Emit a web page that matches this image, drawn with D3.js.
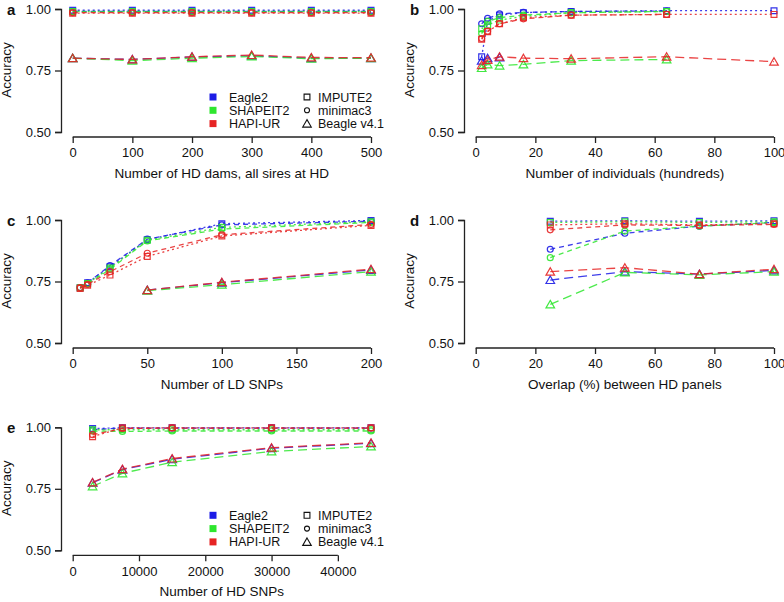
<!DOCTYPE html>
<html><head><meta charset="utf-8">
<script src="https://cdn.jsdelivr.net/npm/d3@7"></script>
<style>body{margin:0;background:#fff;} svg{display:block;font-family:"Liberation Sans",Arial,sans-serif;}</style>
</head><body>
<svg id="chart" width="784" height="602"></svg>
<script>
// ---- data ----
const phasing = ["Eagle2", "SHAPEIT2", "HAPI-UR"];
const imputation = ["IMPUTE2", "minimac3", "Beagle v4.1"];
const yTicks = [0.50, 0.75, 1.00];

// panel a: number of HD dams
const aX = [0, 100, 200, 300, 400, 500];
const aTicks = [0, 100, 200, 300, 400, 500];
const aEagle2   = [[0.995,0.995,0.995,0.995,0.995,0.995],[0.990,0.990,0.990,0.990,0.990,0.990],[0.800,0.795,0.805,0.810,0.800,0.800]];
const aSHAPEIT2 = [[0.990,0.990,0.990,0.990,0.990,0.990],[0.988,0.988,0.988,0.988,0.988,0.988],[0.800,0.790,0.800,0.807,0.798,0.800]];
const aHAPIUR   = [[0.983,0.983,0.983,0.983,0.983,0.983],[0.985,0.985,0.985,0.985,0.985,0.985],[0.800,0.795,0.806,0.813,0.803,0.802]];

// panel b: number of individuals (hundreds)
const bX = [2, 4, 8, 16, 32, 64, 100];
const bTicks = [0, 20, 40, 60, 80, 100];
const bEagle2   = [[0.806,0.950,0.975,0.985,0.990,0.993,0.993],[0.940,0.962,0.980,0.986,0.990,0.992,null],[0.790,0.800,0.803,null,null,null,null]];
const bSHAPEIT2 = [[0.920,0.935,0.955,0.970,0.985,0.990,null],[0.900,0.950,0.965,0.975,0.985,0.990,null],[0.760,0.775,0.770,0.775,0.790,0.795,null]];
const bHAPIUR   = [[0.877,0.908,0.940,0.965,0.975,0.978,0.978],[0.880,0.910,0.940,0.960,0.975,0.978,null],[0.772,0.793,0.806,0.800,0.798,0.806,0.786]];

// panel c: number of LD SNPs
const cX = [5, 10, 25, 50, 100, 200];
const cTicks = [0, 50, 100, 150, 200];
const cEagle2   = [[0.725,0.745,0.810,0.920,0.985,0.998],[0.725,0.745,0.815,0.922,0.980,0.995],[null,null,null,0.715,0.745,0.797]];
const cSHAPEIT2 = [[0.725,0.742,0.805,0.918,0.970,0.993],[0.725,0.740,0.800,0.915,0.963,0.990],[null,null,null,0.713,0.737,0.790]];
const cHAPIUR   = [[0.722,0.735,0.776,0.852,0.935,0.978],[0.725,0.738,0.790,0.865,0.940,0.982],[null,null,null,0.715,0.747,0.800]];

// panel d: overlap (%) between HD panels
const dX = [25, 50, 75, 100];
const dTicks = [0, 20, 40, 60, 80, 100];
const dEagle2   = [[0.995,0.997,0.995,0.997],[0.881,0.946,0.975,0.990],[0.756,0.790,0.780,0.795]];
const dSHAPEIT2 = [[0.990,0.993,0.990,0.993],[0.847,0.955,0.975,0.990],[0.657,0.787,0.777,0.790]];
const dHAPIUR   = [[0.980,0.985,0.980,0.985],[0.960,0.980,0.978,0.982],[0.790,0.806,0.780,0.800]];

// panel e: number of HD SNPs
const eX = [3000, 7500, 15000, 30000, 45000];
const eTicks = [0, 10000, 20000, 30000, 40000];
const eEagle2   = [[0.995,0.998,0.998,0.998,0.998],[0.990,0.997,0.997,0.997,0.997],[0.775,0.828,0.870,0.915,0.935]];
const eSHAPEIT2 = [[0.990,0.990,0.990,0.990,0.990],[0.985,0.983,0.985,0.985,0.985],[0.760,0.813,0.858,0.902,0.922]];
const eHAPIUR   = [[0.962,0.998,0.998,0.998,0.998],[0.970,0.995,0.997,0.997,0.997],[0.776,0.830,0.873,0.917,0.937]];

// ---- styles ----
const colors = ["#1c1ce6", "#2ee62e", "#e62424"];
const dashes = ["2,3", "5,4", "9,5"];
const symbols = [d3.symbolSquare, d3.symbolCircle, d3.symbolTriangle];
const symSizes = [34, 28, 32];

const svg = d3.select("#chart");

const panels = [
  {id:"a", ax:61,  top:9,     xd:[0,500],   ticks:aTicks, x:aX, series:[aEagle2,aSHAPEIT2,aHAPIUR], xlab:"Number of HD dams, all sires at HD", legend:true},
  {id:"b", ax:464, top:9,     xd:[0,100],   ticks:bTicks, x:bX, series:[bEagle2,bSHAPEIT2,bHAPIUR], xlab:"Number of individuals (hundreds)"},
  {id:"c", ax:61,  top:220,   xd:[0,200],   ticks:cTicks, x:cX, series:[cEagle2,cSHAPEIT2,cHAPIUR], xlab:"Number of LD SNPs"},
  {id:"d", ax:464, top:220,   xd:[0,100],   ticks:dTicks, x:dX, series:[dEagle2,dSHAPEIT2,dHAPIUR], xlab:"Overlap (%) between HD panels"},
  {id:"e", ax:61,  top:427.3, xd:[0,45000], ticks:eTicks, x:eX, series:[eEagle2,eSHAPEIT2,eHAPIUR], xlab:"Number of HD SNPs", legend:true}
];

const axisCol = "#222";

panels.forEach(p => {
  const g = svg.append("g");
  const x0 = p.ax + 11.7, x1 = p.ax + 310;
  const x = d3.scaleLinear().domain(p.xd).range([x0, x1]);
  const y = d3.scaleLinear().domain([0.5, 1]).range([p.top + 123, p.top]);
  const axisY = p.top + 128;

  // y axis
  const ya = g.append("g").attr("transform", `translate(${p.ax},0)`)
    .call(d3.axisLeft(y).tickValues(yTicks).tickFormat(d3.format(".2f")).tickSizeOuter(0).tickSize(6).tickPadding(4));
  // x axis
  const xa = g.append("g").attr("transform", `translate(0,${axisY})`)
    .call(d3.axisBottom(x).tickValues(p.ticks).tickFormat(d3.format("d")).tickSizeOuter(0).tickSize(6).tickPadding(5));
  xa.select(".domain").attr("d", `M${x(p.ticks[0])},0H${x(p.ticks[p.ticks.length-1])}`);
  [ya, xa].forEach(a => {
    a.attr("font-size", 13).attr("font-family", null);
    a.selectAll("path,line").attr("stroke", axisCol).attr("stroke-width", 1.3);
    a.selectAll("text").attr("fill", "#111");
  });

  // titles
  g.append("text").attr("x", (x0 + x1) / 2).attr("y", axisY + 41).attr("text-anchor", "middle")
    .attr("font-size", 13.5).attr("fill", "#111").text(p.xlab);
  g.append("text").attr("transform", `translate(${p.ax - 50},${p.top + 61}) rotate(-90)`)
    .attr("text-anchor", "middle").attr("font-size", 13.5).attr("fill", "#111").text("Accuracy");
  g.append("text").attr("x", p.ax - 54).attr("y", p.top + 5.5).attr("font-size", 15)
    .attr("font-weight", "bold").attr("fill", "#111").text(p.id);

  // series
  const line = d3.line().defined(d => d.v != null).x(d => x(d.x)).y(d => y(d.v));
  p.series.forEach((ph, pi) => {
    ph.forEach((vals, ii) => {
      const pts = p.x.map((xv, k) => ({x: xv, v: vals[k]}));
      g.append("path").datum(pts).attr("d", line).attr("fill", "none")
        .attr("stroke", colors[pi]).attr("stroke-width", 1.3).attr("stroke-dasharray", dashes[ii])
        .attr("stroke-opacity", 0.85);
      g.selectAll(null).data(pts.filter(d => d.v != null)).enter().append("path")
        .attr("d", d3.symbol().type(symbols[ii]).size(symSizes[ii]))
        .attr("transform", d => `translate(${x(d.x)},${y(d.v) + (ii === 2 ? 1 : 0)})`)
        .attr("fill", "none").attr("stroke", colors[pi]).attr("stroke-width", 1.2).attr("stroke-opacity", 0.9);
    });
  });

  // legend
  if (p.legend) {
    const ly = p.top + 88;
    phasing.forEach((name, i) => {
      g.append("rect").attr("x", 213 - 3.5).attr("y", ly + i * 13.3 - 3.5).attr("width", 7).attr("height", 7)
        .attr("fill", colors[i]);
      g.append("text").attr("x", 229).attr("y", ly + i * 13.3 + 4.5).attr("font-size", 12.5)
        .attr("fill", "#111").text(name);
    });
    imputation.forEach((name, i) => {
      g.append("path").attr("d", d3.symbol().type(symbols[i]).size(i === 1 ? 20 : symSizes[i]))
        .attr("transform", `translate(307,${ly + i * 13.3 + (i === 2 ? 1 : 0)})`)
        .attr("fill", "none").attr("stroke", "#111").attr("stroke-width", 1.1);
      g.append("text").attr("x", 318).attr("y", ly + i * 13.3 + 4.5).attr("font-size", 12.5)
        .attr("fill", "#111").text(name);
    });
  }
});
</script>
</body></html>
